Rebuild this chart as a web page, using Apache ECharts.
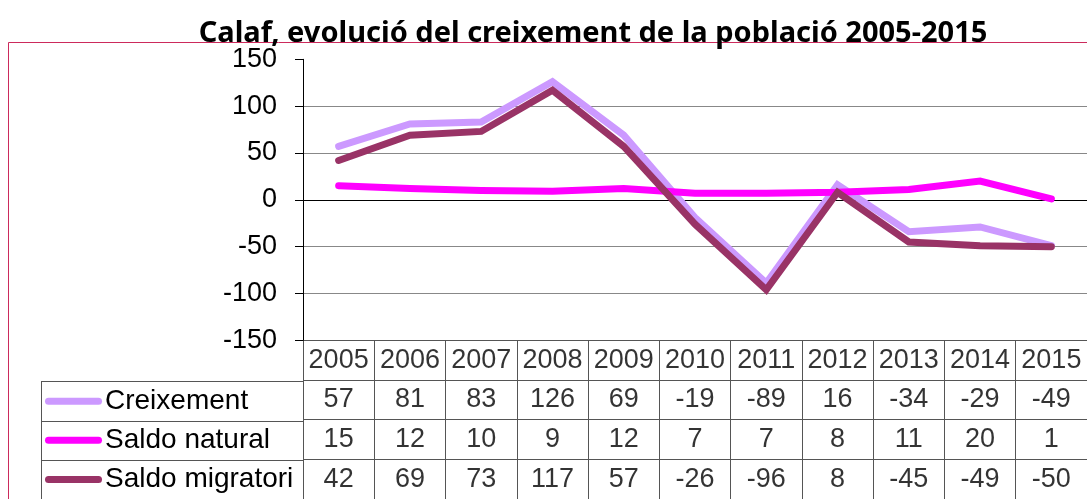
<!DOCTYPE html>
<html>
<head>
<meta charset="utf-8">
<script src="https://cdn.jsdelivr.net/npm/echarts@6/dist/echarts.min.js"></script>
<style>
  html, body { margin: 0; padding: 0; background: #fff; }
  #chart { width: 1087px; height: 499px; }
</style>
</head>
<body>
<div id="chart"></div>
<script>
// dades
const years = ['2005', '2006', '2007', '2008', '2009', '2010', '2011', '2012', '2013', '2014', '2015']
const creixement = [57, 81, 83, 126, 69, -19, -89, 16, -34, -29, -49]
const saldoNatural = [15, 12, 10, 9, 12, 7, 7, 8, 11, 20, 1]
const saldoMigratori = [42, 69, 73, 117, 57, -26, -96, 8, -45, -49, -50]
const seriesNames = ['Creixement', 'Saldo natural', 'Saldo migratori']
const seriesColors = ['#cc99ff', '#ff00ff', '#993366']

const FONT = 'Liberation Sans'
const allSeries = [creixement, saldoNatural, saldoMigratori]

// cel·les de la taula de dades (fila 0 = anys)
const tableCells = []
years.forEach((y, i) => tableCells.push([i, 0, y]))
allSeries.forEach((arr, r) => {
  arr.forEach((v, i) => tableCells.push([i, r + 1, String(v)]))
})

const rich = { t: { fontSize: 28, fontFamily: FONT, color: '#000', padding: [0, 0, 0, 3], verticalAlign: 'middle' } }
seriesColors.forEach((c, i) => {
  rich['l' + i] = { width: 57, height: 7, backgroundColor: c, borderRadius: 3.5, verticalAlign: 'middle' }
})

const myChart = echarts.init(document.getElementById('chart'))
const option = {
  animation: false,
  backgroundColor: '#fff',
  title: {
    text: 'Calaf, evolució del creixement de la població 2005-2015',
    left: 593,
    textAlign: 'center',
    top: 19,
    padding: 0,
    textStyle: { fontFamily: 'Noto Sans', fontWeight: 'bold', fontSize: 29, color: '#000' }
  },
  graphic: [{
    type: 'rect',
    z: -1,
    silent: true,
    shape: { x: 8.5, y: 42.5, width: 1200, height: 600 },
    style: { fill: 'none', stroke: '#cc2a5c', lineWidth: 1 }
  }],
  grid: [
    { left: 303, top: 59.3, width: 794.5, height: 281 },       // gràfic
    { left: 303, top: 340.3, width: 794.5, height: 166.8 },    // taula
    { left: 41, top: 381.7, width: 262, height: 125.1 }        // llegenda
  ],
  xAxis: [
    {
      gridIndex: 0, type: 'category', data: years, boundaryGap: true,
      axisLine: { show: true, onZero: true, lineStyle: { color: '#000', width: 1 } },
      axisTick: { show: false }, axisLabel: { show: false }, splitLine: { show: false }
    },
    {
      gridIndex: 1, type: 'category', data: years, boundaryGap: true,
      axisLine: { show: false }, axisTick: { show: false, interval: 0 },
      axisLabel: { show: false, interval: 0 },
      splitLine: { show: true, interval: 0, lineStyle: { color: '#555', width: 1 } }
    },
    {
      gridIndex: 2, type: 'value', show: false
    }
  ],
  yAxis: [
    {
      gridIndex: 0, type: 'value', min: -150, max: 150, interval: 50,
      axisLine: { show: true, lineStyle: { color: '#000', width: 1 } },
      axisTick: { show: true, length: 8, lineStyle: { color: '#000' } },
      axisLabel: { fontSize: 27, fontFamily: FONT, color: '#000', margin: 26 },
      splitLine: { show: true, showMaxLine: false, lineStyle: { color: '#888', width: 1 } }
    },
    {
      gridIndex: 1, type: 'category', inverse: true, data: ['anys'].concat(seriesNames),
      axisLine: { show: false }, axisTick: { show: false, interval: 0 },
      axisLabel: { show: false, interval: 0 },
      splitLine: { show: true, interval: 0, lineStyle: { color: '#555', width: 1 } }
    },
    {
      gridIndex: 2, type: 'category', inverse: true, data: seriesNames,
      axisLine: { show: true, lineStyle: { color: '#555', width: 1 } },
      axisTick: { show: false, interval: 0 },
      axisLabel: {
        inside: true, margin: 4, interval: 0,
        formatter: (name, idx) => '{l' + idx + '|}{t|' + name + '}',
        rich: rich
      },
      splitLine: { show: true, interval: 0, lineStyle: { color: '#555', width: 1 } }
    }
  ],
  series: allSeries.map((arr, i) => ({
    name: seriesNames[i],
    type: 'line',
    xAxisIndex: 0,
    yAxisIndex: 0,
    data: arr,
    showSymbol: false,
    silent: true,
    lineStyle: { color: seriesColors[i], width: 7, cap: 'round', join: 'miter' },
    itemStyle: { color: seriesColors[i] }
  })).concat([{
    type: 'scatter',
    xAxisIndex: 1,
    yAxisIndex: 1,
    data: tableCells,
    symbolSize: 1,
    silent: true,
    itemStyle: { color: 'rgba(0,0,0,0)' },
    label: {
      show: true, position: 'inside',
      formatter: p => p.value[2],
      fontSize: 27, fontFamily: FONT, color: '#000'
    }
  }])
}
myChart.setOption(option)
</script>
</body>
</html>
